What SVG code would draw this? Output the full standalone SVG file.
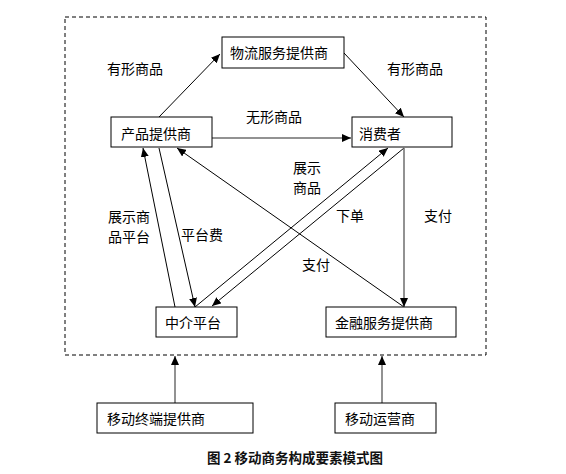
<svg xmlns="http://www.w3.org/2000/svg" width="566" height="474" viewBox="0 0 566 474">
<style>
.box{fill:#fff;stroke:#000;stroke-width:1}
.t{font-family:"Noto Sans CJK SC","Liberation Sans",sans-serif;font-size:14px;fill:#000}
.ln{stroke:#000;stroke-width:1;fill:none;marker-end:url(#ah)}
.lg{stroke:#6e6e6e;stroke-width:1.5;fill:none;marker-end:url(#ah)}
.cap{font-family:"Noto Sans CJK SC","Liberation Sans",sans-serif;font-size:13.5px;font-weight:bold;fill:#111}
</style>
<defs>
<marker id="ah" markerWidth="9" markerHeight="8" refX="9" refY="4" orient="auto" markerUnits="userSpaceOnUse">
<path d="M0,0 L9,4 L0,8 Z" fill="#000"/>
</marker>
</defs>
<rect x="0" y="0" width="566" height="474" fill="#fff"/>
<rect x="65" y="17" width="421" height="338" fill="none" stroke="#000" stroke-width="1" stroke-dasharray="4,3"/>
<g id="connectors">
<line class="ln" x1="159" y1="117" x2="220" y2="54"/>
<line class="ln" x1="344" y1="53" x2="404" y2="117"/>
<line class="lg" x1="212" y1="138" x2="351" y2="138"/>
<line class="ln" x1="175" y1="307" x2="143" y2="148"/>
<line class="ln" x1="159" y1="148" x2="195" y2="307"/>
<line class="ln" x1="195" y1="307" x2="388" y2="148"/>
<line class="ln" x1="404" y1="148" x2="212" y2="306"/>
<line class="ln" x1="404" y1="307" x2="177" y2="148"/>
<line class="lg" x1="404" y1="148" x2="404" y2="307"/>
<line class="lg" x1="175" y1="403" x2="175" y2="356"/>
<line class="lg" x1="382" y1="403" x2="382" y2="356"/>
</g>
<g id="logistics"><rect class="box" x="222" y="37" width="122" height="31"/><text class="t" x="230" y="58">物流服务提供商</text></g>
<g id="product"><rect class="box" x="111" y="117" width="101" height="30"/><text class="t" x="121" y="139">产品提供商</text></g>
<g id="consumer"><rect class="box" x="352" y="117" width="100" height="30"/><text class="t" x="359" y="139">消费者</text></g>
<g id="platform"><rect class="box" x="156" y="307" width="81" height="30"/><text class="t" x="165" y="328">中介平台</text></g>
<g id="finance"><rect class="box" x="326" y="307" width="130" height="30"/><text class="t" x="335" y="328">金融服务提供商</text></g>
<g id="terminal"><rect class="box" x="97" y="403" width="156" height="30"/><text class="t" x="107" y="424">移动终端提供商</text></g>
<g id="operator"><rect class="box" x="335" y="403" width="101" height="30"/><text class="t" x="345" y="424">移动运营商</text></g>
<g id="labels">
<text class="t" x="107" y="74">有形商品</text>
<text class="t" x="387" y="74">有形商品</text>
<text class="t" x="246" y="122">无形商品</text>
<text class="t" x="293" y="173">展示</text>
<text class="t" x="293" y="193">商品</text>
<text class="t" x="108" y="222">展示商</text>
<text class="t" x="108" y="242">品平台</text>
<text class="t" x="181" y="240">平台费</text>
<text class="t" x="336" y="221">下单</text>
<text class="t" x="424" y="221">支付</text>
<text class="t" x="302" y="270">支付</text>
</g>
<text class="cap" x="207" y="463">图 2 移动商务构成要素模式图</text>
</svg>
